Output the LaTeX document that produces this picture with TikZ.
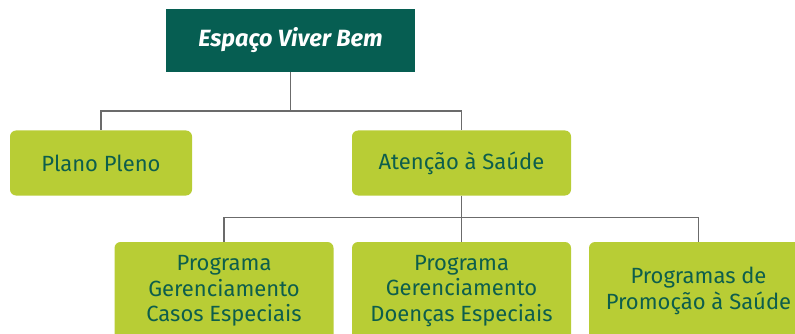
\documentclass[tikz,border=0pt]{standalone}
\usepackage{fontspec}
\setmainfont{Fira Sans}
\definecolor{topgreen}{HTML}{065E52}
\definecolor{leafgreen}{HTML}{B8CD35}
\definecolor{inkgreen}{HTML}{0D5E4C}
\definecolor{linkgray}{HTML}{6B6B6B}
\tikzset{
  topbox/.style={fill=topgreen, minimum width=249pt, minimum height=63pt,
    text=white, font=\fontsize{23.5}{27}\selectfont\bfseries\itshape},
  leafbox/.style={fill=leafgreen, rounded corners=6pt, minimum height=65pt,
    text=inkgreen, align=center, font=\fontsize{22}{25.5}\selectfont},
  link/.style={draw=linkgray, line width=1.1pt},
}
\begin{document}
\begin{tikzpicture}[y=1pt, x=1pt, yscale=-1, inner sep=0pt, outer sep=0pt]
\useasboundingbox (0,0) rectangle (795,334);
\begin{scope}
\clip (0,0) rectangle (795,334);
% top level
\node[topbox] (espaco) at (290.5,40.5) {Espaço Viver Bem};
% second level
\node[leafbox, minimum width=182pt] (plano) at (101,163) {Plano Pleno};
\node[leafbox, minimum width=219pt] (atencao) at (461.5,163) {Atenção à Saúde};
% third level
\node[leafbox, minimum width=219pt, minimum height=98pt] (casos) at (224,291)
  {Programa\\Gerenciamento\\Casos Especiais};
\node[leafbox, minimum width=219pt, minimum height=98pt] (doencas) at (461.5,291)
  {Programa\\Gerenciamento\\Doenças Especiais};
\node[leafbox, minimum width=219pt, minimum height=98pt] (promocao) at (698.5,291)
  {Programas de\\Promoção à Saúde};
% connectors
\draw[link] (espaco.south) -- ++(0,39) coordinate (j1);
\draw[link] (j1) -| (plano.north);
\draw[link] (j1) -| (atencao.north);
\draw[link] (atencao.south) -- ++(0,22) coordinate (j2);
\draw[link] (j2) -| (casos.north);
\draw[link] (j2) -- (doencas.north);
\draw[link] (j2) -| (promocao.north);
\end{scope}
\end{tikzpicture}
\end{document}
